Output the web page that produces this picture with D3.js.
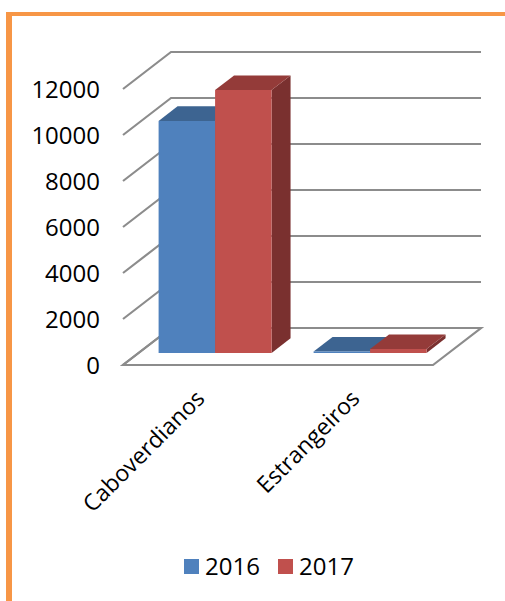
<!DOCTYPE html>
<html>
<head>
<meta charset="utf-8">
<title>Caboverdianos e Estrangeiros</title>
<script src="https://cdn.jsdelivr.net/npm/d3@7"></script>
<style>
    html, body { margin: 0; padding: 0; background: #fff; overflow: hidden; }
    svg { display: block; }
    text { font-family: "Open Sans", sans-serif; fill: #000; }
</style>
</head>
<body>
<svg width="505" height="601"></svg>
<script>
    // values
    const categories = ["Caboverdianos", "Estrangeiros"];
    const years = ["2016", "2017"];
    const values2016 = [10090, 60];
    const values2017 = [11430, 170];
    const yTicks = [0, 2000, 4000, 6000, 8000, 10000, 12000];

    const frontColors = ["#4f81bd", "#c0504d"];
    const topColors = ["#3d6491", "#943b39"];
    const sideColors = ["#325377", "#7a302f"];

    const svg = d3.select("svg");

    // orange page frame
    svg.append("rect").attr("x", 6).attr("y", 12).attr("width", 499).attr("height", 4).attr("fill", "#f79646");
    svg.append("rect").attr("x", 6).attr("y", 12).attr("width", 6).attr("height", 589).attr("fill", "#f79646");

    // 3d box: depth 0 is the front of the floor, depth 1 the back wall
    const floorLeft = 123, floorRight = 433, floorY = 365;
    const depthX = d3.scaleLinear().domain([0, 1]).range([0, 48]);
    const depthY = d3.scaleLinear().domain([0, 1]).range([0, -37]);
    const y = d3.scaleLinear().domain([0, 12000]).range([floorY, 89]);
    const x = d3.scaleBand().domain(categories).range([floorLeft, floorRight]);
    const barInner = d3.scaleBand().domain(years).range([20, x.bandwidth() - 22]);

    const pt = (px, py, d) => [px + depthX(d), py + depthY(d)];
    const poly = pts => pts.map(p => p.join(",")).join(" ");

    // gridlines, running along the side wall and the back wall
    const grid = svg.append("g").attr("fill", "none").attr("stroke", "#8c8c8c").attr("stroke-width", 2.2);
    grid.selectAll("polyline").data(yTicks).join("polyline")
        .attr("points", d => poly([
            pt(floorLeft, y(d), 0),
            pt(floorLeft, y(d), 1),
            pt(floorRight, y(d), 1)
        ]));
    // floor outline
    grid.append("polygon").attr("points", poly([
        pt(floorLeft, floorY, 0),
        pt(floorRight, floorY, 0),
        pt(floorRight, floorY, 1),
        pt(floorLeft, floorY, 1)
    ]));

    // bars
    const barFront = 0.325, barBack = 0.72;
    const seriesValues = [values2016, values2017];
    const bars = [];
    years.forEach((yr, s) => categories.forEach((c, i) => {
        bars.push({ s, value: seriesValues[s][i], x0: x(c) + barInner(yr) });
    }));
    const barG = svg.selectAll("g.bar").data(bars).join("g").attr("class", "bar");
    barG.append("polygon").attr("fill", d => sideColors[d.s]).attr("points", d => {
        const x1 = d.x0 + barInner.bandwidth();
        return poly([pt(x1, floorY, barFront), pt(x1, floorY, barBack), pt(x1, y(d.value), barBack), pt(x1, y(d.value), barFront)]);
    });
    barG.append("polygon").attr("fill", d => topColors[d.s]).attr("points", d => {
        const x1 = d.x0 + barInner.bandwidth();
        return poly([pt(d.x0, y(d.value), barFront), pt(x1, y(d.value), barFront), pt(x1, y(d.value), barBack), pt(d.x0, y(d.value), barBack)]);
    });
    barG.append("polygon").attr("fill", d => frontColors[d.s]).attr("points", d => {
        const x1 = d.x0 + barInner.bandwidth();
        return poly([pt(d.x0, floorY, barFront), pt(x1, floorY, barFront), pt(x1, y(d.value), barFront), pt(d.x0, y(d.value), barFront)]);
    });

    // y axis labels
    const yAxis = svg.append("g").attr("transform", "translate(108,1)")
        .call(d3.axisLeft(y).tickValues(yTicks).tickFormat(d3.format("d")).tickSize(0).tickPadding(8));
    yAxis.select(".domain").remove();
    yAxis.selectAll("text").style("font-family", '"Open Sans", sans-serif').style("font-size", "24px").attr("fill", "#000");

    // category labels, rotated
    svg.selectAll("text.cat").data(categories).join("text")
        .attr("class", "cat")
        .attr("text-anchor", "end")
        .attr("font-size", 23)
        .attr("transform", d => `translate(${x(d) + x.bandwidth() / 2 + depthX(barFront) - 10},400) rotate(-45)`)
        .text(d => d);

    // legend
    const legendX = d3.scaleOrdinal().domain(years).range([184, 278]);
    const legend = svg.selectAll("g.legend").data(years).join("g").attr("class", "legend")
        .attr("transform", d => `translate(${legendX(d)},559)`);
    legend.append("rect").attr("width", 15).attr("height", 15).attr("fill", (d, i) => frontColors[i]);
    legend.append("text").attr("x", 21).attr("y", 16).attr("font-size", 24).text(d => d);
</script>
</body>
</html>
